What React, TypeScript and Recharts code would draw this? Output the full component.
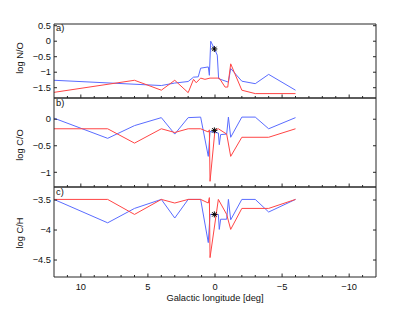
import React from 'react';
import { ComposedChart, Line, XAxis, YAxis } from 'recharts';

type Pt = { l: number; v: number };

// galactic longitude ticks (deg), labels only every 5
const lonTicks = [12, 11, 10, 9, 8, 7, 6, 5, 4, 3, 2, 1, 0, -1, -2, -3, -4, -5, -6, -7, -8, -9, -10, -11, -12];

// a) log N/O
const noBlue: Pt[] = [
  { l: 12, v: -1.26 }, { l: 4, v: -1.43 }, { l: 3, v: -1.35 }, { l: 2, v: -1.3 },
  { l: 1.6, v: -1.16 }, { l: 1.25, v: -1.15 }, { l: 1.07, v: -0.87 }, { l: 0.5, v: -0.83 },
  { l: 0.42, v: -1.1 }, { l: 0.32, v: 0.0 }, { l: 0.05, v: -0.24 }, { l: -0.17, v: -0.45 },
  { l: -0.27, v: -1.21 }, { l: -1.0, v: -1.32 }, { l: -1.17, v: -0.88 }, { l: -2, v: -1.29 },
  { l: -3, v: -1.37 }, { l: -4, v: -1.07 }, { l: -6, v: -1.58 },
];
const noRed: Pt[] = [
  { l: 12, v: -1.65 }, { l: 6, v: -1.26 }, { l: 4, v: -1.58 }, { l: 3, v: -1.26 },
  { l: 2, v: -1.66 }, { l: 1.6, v: -1.23 }, { l: 1.4, v: -1.34 }, { l: 1.07, v: -1.19 },
  { l: 0.75, v: -1.23 }, { l: 0.37, v: -1.19 }, { l: -0.32, v: -1.19 }, { l: -0.75, v: -1.48 },
  { l: -0.95, v: -1.48 }, { l: -1.17, v: -0.73 }, { l: -2, v: -1.58 }, { l: -3, v: -1.69 },
  { l: -6, v: -1.69 },
];
const noStar: Pt[] = [{ l: 0.05, v: -0.25 }];
const noTicks = [0.5, 0, -0.5, -1, -1.5];

// b) log C/O
const coBlue: Pt[] = [
  { l: 12, v: 0.02 }, { l: 8, v: -0.36 }, { l: 6, v: -0.12 }, { l: 4, v: 0.03 },
  { l: 3, v: -0.28 }, { l: 2, v: 0.03 }, { l: 1.07, v: 0.04 }, { l: 0.5, v: -0.7 },
  { l: 0.37, v: -0.23 }, { l: -0.25, v: -0.26 }, { l: -0.32, v: -0.48 }, { l: -0.42, v: -0.29 },
  { l: -0.87, v: -0.28 }, { l: -1.0, v: 0.04 }, { l: -1.17, v: -0.34 }, { l: -2, v: 0.04 },
  { l: -3, v: 0.04 }, { l: -4, v: -0.18 }, { l: -6, v: 0.03 },
];
const coRed: Pt[] = [
  { l: 12, v: -0.18 }, { l: 8, v: -0.18 }, { l: 6, v: -0.45 }, { l: 4, v: -0.18 },
  { l: 3, v: -0.25 }, { l: 2, v: -0.18 }, { l: 1.07, v: -0.18 }, { l: 0.5, v: -0.24 },
  { l: 0.42, v: -0.2 }, { l: 0.37, v: -1.17 }, { l: 0, v: -0.2 }, { l: -0.25, v: -0.18 },
  { l: -0.87, v: -0.28 }, { l: -1.17, v: -0.7 }, { l: -2, v: -0.34 }, { l: -4, v: -0.34 },
  { l: -6, v: -0.18 },
];
const coStar: Pt[] = [{ l: 0.05, v: -0.21 }];
const coTicks = [0, -0.5, -1];

// c) log C/H
const chBlue: Pt[] = [
  { l: 12, v: -3.49 }, { l: 8, v: -3.88 }, { l: 6, v: -3.64 }, { l: 4, v: -3.49 },
  { l: 3, v: -3.8 }, { l: 2, v: -3.49 }, { l: 1.07, v: -3.49 }, { l: 0.5, v: -4.21 },
  { l: 0.37, v: -3.74 }, { l: 0, v: -3.74 }, { l: -0.25, v: -3.74 }, { l: -0.32, v: -3.99 },
  { l: -0.42, v: -3.82 }, { l: -0.87, v: -3.82 }, { l: -1.0, v: -3.49 }, { l: -1.17, v: -3.83 },
  { l: -2, v: -3.49 }, { l: -3, v: -3.49 }, { l: -4, v: -3.7 }, { l: -6, v: -3.49 },
];
const chRed: Pt[] = [
  { l: 12, v: -3.49 }, { l: 8, v: -3.49 }, { l: 6, v: -3.74 }, { l: 4, v: -3.49 },
  { l: 3, v: -3.55 }, { l: 2, v: -3.49 }, { l: 1.07, v: -3.49 }, { l: 0.5, v: -3.55 },
  { l: 0.42, v: -3.46 }, { l: 0.37, v: -4.46 }, { l: -0.25, v: -3.49 }, { l: -0.87, v: -3.74 },
  { l: -1.17, v: -3.99 }, { l: -2, v: -3.64 }, { l: -4, v: -3.64 }, { l: -6, v: -3.49 },
];
const chStar: Pt[] = [{ l: 0.05, v: -3.74 }];
const chTicks = [-3.5, -4, -4.5];

const FONT = '"Liberation Sans", Arial, Helvetica, sans-serif';
const AX = '#262626';
const BLUE = '#5a6cff';
const RED = '#ff4545';

const fmt = (v: number) => String(v).replace('-', '\u2212');

const XTick = (p: any) => {
  const { x, y, payload, side, showLabel } = p;
  const v = payload.value;
  if (Math.abs(v) === 12) return <g />;
  const major = v % 5 === 0;
  const len = major ? 3.5 : 2;
  const dir = side === 'top' ? 1 : -1;
  return (
    <g>
      <line x1={x} x2={x} y1={y} y2={y + dir * len} stroke={AX} strokeWidth={1} />
      {showLabel && major && (
        <text x={x} y={y + 12.5} textAnchor="middle" fontSize={9.3} fontFamily={FONT} fill="#111">
          {fmt(v)}
        </text>
      )}
    </g>
  );
};

const YTick = (p: any) => {
  const { x, y, payload, side } = p;
  const dir = side === 'left' ? 1 : -1;
  return (
    <g>
      <line x1={x} x2={x + dir * 3} y1={y} y2={y} stroke={AX} strokeWidth={1} />
      {side === 'left' && (
        <text x={x - 3} y={y} dy="0.35em" textAnchor="end" fontSize={9.3} fontFamily={FONT} fill="#111">
          {fmt(payload.value)}
        </text>
      )}
    </g>
  );
};

const Asterisk = (p: any) => {
  const { cx, cy } = p;
  if (cx == null || cy == null) return <g />;
  const r = 3;
  const d = 2.2;
  return (
    <g stroke="#000" strokeWidth={1}>
      <line x1={cx - r} x2={cx + r} y1={cy} y2={cy} />
      <line x1={cx} x2={cx} y1={cy - r} y2={cy + r} />
      <line x1={cx - d} x2={cx + d} y1={cy - d} y2={cy + d} />
      <line x1={cx - d} x2={cx + d} y1={cy + d} y2={cy - d} />
    </g>
  );
};

type PanelProps = {
  top: number;
  height: number;
  blue: Pt[];
  red: Pt[];
  star: Pt[];
  domain: [number, number];
  ticks: number[];
  last?: boolean;
};

// axes need a non-zero size or recharts skips drawing them
const Panel: React.FC<PanelProps> = ({ top, height, blue, red, star, domain, ticks, last }) => (
  <div style={{ position: 'absolute', left: 0, top }}>
    <ComposedChart width={415} height={height} margin={{ top: 1, right: 38, bottom: last ? 0 : 1, left: 24 }}>
      <XAxis
        xAxisId="b"
        type="number"
        dataKey="l"
        domain={[-12, 12]}
        reversed
        ticks={lonTicks}
        interval={0}
        tickSize={0}
        tickMargin={0}
        height={last ? 36 : 1}
        axisLine={{ stroke: AX, strokeWidth: 1 }}
        tickLine={false}
        tick={(p: any) => <XTick {...p} side="bottom" showLabel={!!last} />}
      />
      <XAxis
        xAxisId="t"
        type="number"
        orientation="top"
        domain={[-12, 12]}
        reversed
        ticks={lonTicks}
        interval={0}
        tickSize={0}
        tickMargin={0}
        height={1}
        axisLine={{ stroke: AX, strokeWidth: 1 }}
        tickLine={false}
        tick={(p: any) => <XTick {...p} side="top" />}
      />
      <YAxis
        yAxisId="l"
        type="number"
        domain={domain}
        ticks={ticks}
        interval={0}
        allowDataOverflow
        width={30}
        tickSize={0}
        tickMargin={0}
        axisLine={{ stroke: AX, strokeWidth: 1 }}
        tickLine={false}
        tick={(p: any) => <YTick {...p} side="left" />}
      />
      <YAxis
        yAxisId="r"
        type="number"
        orientation="right"
        domain={domain}
        ticks={ticks}
        interval={0}
        allowDataOverflow
        width={1}
        tickSize={0}
        tickMargin={0}
        axisLine={{ stroke: AX, strokeWidth: 1 }}
        tickLine={false}
        tick={(p: any) => <YTick {...p} side="right" />}
      />
      <Line xAxisId="b" yAxisId="l" data={blue} dataKey="v" type="linear" stroke={BLUE} strokeWidth={1} dot={false} isAnimationActive={false} />
      <Line xAxisId="b" yAxisId="l" data={red} dataKey="v" type="linear" stroke={RED} strokeWidth={1} dot={false} isAnimationActive={false} />
      <Line
        xAxisId="b"
        yAxisId="l"
        data={star}
        dataKey="v"
        stroke="none"
        dot={(p: any) => <Asterisk key={p.index} {...p} />}
        isAnimationActive={false}
      />
    </ComposedChart>
  </div>
);

export default function App() {
  const txt = { fontFamily: FONT, fontSize: 9.3, fill: '#111' };
  return (
    <div style={{ position: 'relative', width: 415, height: 313, background: '#fff' }}>
      <style>{'body{margin:0}'}</style>
      <Panel top={22} height={78} blue={noBlue} red={noRed} star={noStar} domain={[-1.832, 0.555]} ticks={noTicks} />
      <Panel top={96} height={93} blue={coBlue} red={coRed} star={coStar} domain={[-1.277, 0.4]} ticks={coTicks} />
      <Panel top={185} height={128} blue={chBlue} red={chRed} star={chStar} domain={[-4.783, -3.283]} ticks={chTicks} last />
      <svg width={415} height={313} style={{ position: 'absolute', left: 0, top: 0, pointerEvents: 'none' }}>
        <text x={56} y={31} {...txt}>a)</text>
        <text x={56} y={106} {...txt}>b)</text>
        <text x={56} y={195} {...txt}>c)</text>
        <text x={23} y={58} transform="rotate(-90 23 58)" textAnchor="middle" {...txt}>log N/O</text>
        <text x={23} y={145} transform="rotate(-90 23 145)" textAnchor="middle" {...txt}>log C/O</text>
        <text x={23} y={233} transform="rotate(-90 23 233)" textAnchor="middle" {...txt}>log C/H</text>
        <text x={215} y={301} textAnchor="middle" {...txt}>Galactic longitude [deg]</text>
      </svg>
    </div>
  );
}
